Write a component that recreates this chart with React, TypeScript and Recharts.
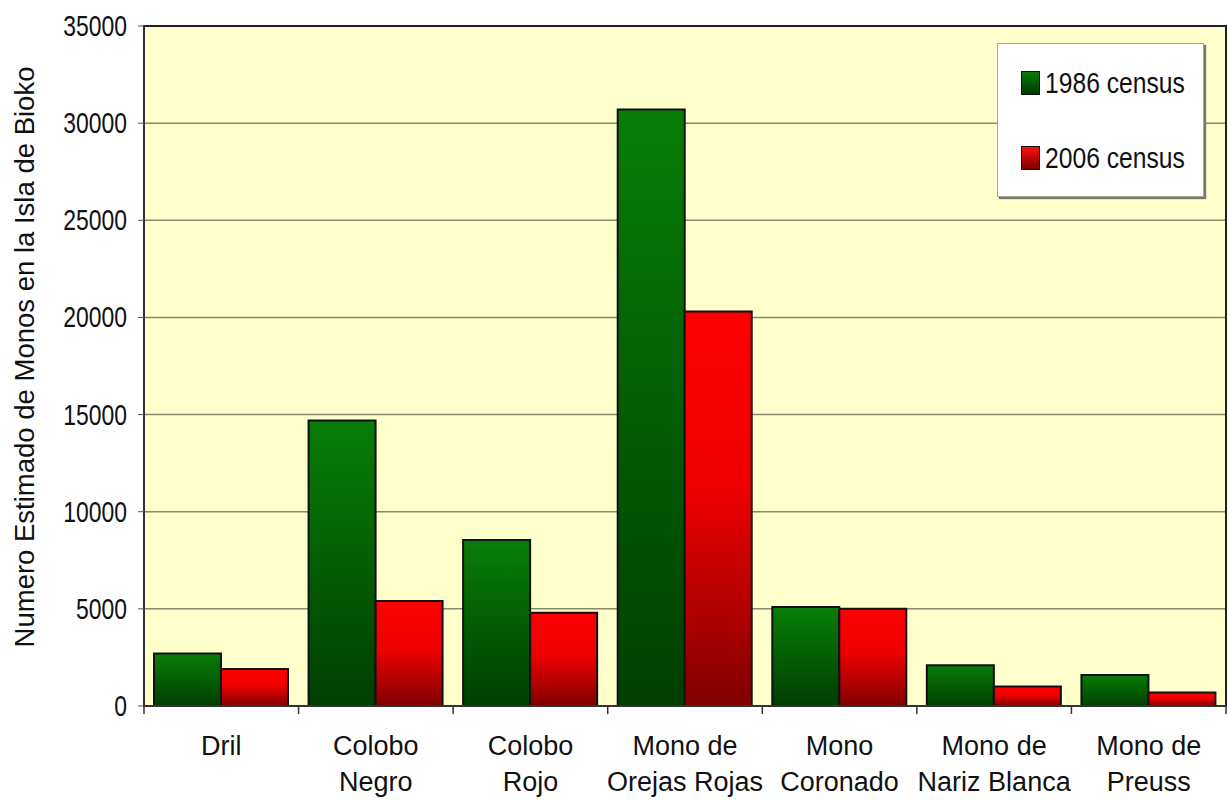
import React from "react";
import { Bar, BarChart, CartesianGrid, Legend, ReferenceArea, XAxis, YAxis } from "recharts";

const categories = [
  ["Dril"],
  ["Colobo", "Negro"],
  ["Colobo", "Rojo"],
  ["Mono de", "Orejas Rojas"],
  ["Mono", "Coronado"],
  ["Mono de", "Nariz Blanca"],
  ["Mono de", "Preuss"],
];
const census1986 = [2700, 14700, 8550, 30700, 5100, 2100, 1600];
const census2006 = [1900, 5400, 4800, 20300, 5000, 1000, 700];
const yTicks = [0, 5000, 10000, 15000, 20000, 25000, 30000, 35000];

const data = categories.map((lines, i) => ({
  name: lines.join(" "),
  lines,
  c1986: census1986[i],
  c2006: census2006[i],
}));

const font = "'Liberation Sans', Arial, sans-serif";
const bandWidth = (1226 - 144) / categories.length;

function CategoryTick(props: any) {
  const { x, y, index } = props;
  const lines: string[] = data[index]?.lines ?? [];
  const left = x - bandWidth / 2;
  return (
    <g>
      <line x1={left} y1={y - 8} x2={left} y2={y} stroke="#333" strokeWidth={1.5} />
      {index === data.length - 1 && (
        <line x1={left + bandWidth} y1={y - 8} x2={left + bandWidth} y2={y} stroke="#333" strokeWidth={1.5} />
      )}
      {lines.map((t, i) => (
        <text
          key={i}
          x={x}
          y={y + 41 + i * 36}
          textAnchor="middle"
          fontSize={27}
          fontFamily={font}
          fill="#111"
        >
          {t}
        </text>
      ))}
    </g>
  );
}

function ValueTick(props: any) {
  const { x, y, payload } = props;
  return (
    <text
      transform={`translate(${x},${y + 10}) scale(0.79,1)`}
      textAnchor="end"
      fontSize={29}
      fontFamily={font}
      fill="#111"
    >
      {payload.value}
    </text>
  );
}

function AxisTitle(props: any) {
  const vb = props.viewBox ?? {};
  const cy = (vb.y ?? 26) + (vb.height ?? 680) / 2 - 9;
  return (
    <text
      transform={`translate(34,${cy}) rotate(-90)`}
      textAnchor="middle"
      fontSize={27.5}
      fontFamily={font}
      fill="#111"
    >
      Numero Estimado de Monos en la Isla de Bioko
    </text>
  );
}

function LegendBox() {
  const items = [
    { label: "1986 census", bg: "linear-gradient(#0a7a0a, #003a00)" },
    { label: "2006 census", bg: "linear-gradient(#ff1010, #7a0000)" },
  ];
  return (
    <div
      style={{
        width: 207,
        height: 154,
        background: "#fff",
        border: "1px solid #a8a888",
        boxShadow: "2px 2px 1px #777",
        fontFamily: font,
        boxSizing: "border-box",
        paddingTop: 24,
      }}
    >
      {items.map((it, i) => (
        <div
          key={it.label}
          style={{ display: "flex", alignItems: "center", marginLeft: 23, height: 30, marginBottom: i === 0 ? 45 : 0 }}
        >
          <span
            style={{
              display: "inline-block",
              flexShrink: 0,
              width: 17,
              height: 22,
              background: it.bg,
              border: "1px solid #111",
              marginRight: 5,
            }}
          />
          <span
            style={{
              fontSize: 29,
              color: "#111",
              display: "inline-block",
              flexShrink: 0,
              transform: "scaleX(0.85)",
              transformOrigin: "left center",
              whiteSpace: "nowrap",
            }}
          >
            {it.label}
          </span>
        </div>
      ))}
    </div>
  );
}

export default function App() {
  return (
    <div style={{ position: "absolute", left: 0, top: 0, width: 1228, height: 800, background: "#fff" }}>
      <BarChart
        width={1228}
        height={800}
        data={data}
        margin={{ top: 26, right: 2, bottom: 0, left: 0 }}
        barCategoryGap={10}
        barGap={0}
      >
        <defs>
          <linearGradient id="gGreen" x1="0" y1="0" x2="0" y2="1">
            <stop offset="0%" stopColor="#087d08" />
            <stop offset="100%" stopColor="#003f00" />
          </linearGradient>
          <linearGradient id="gRed" x1="0" y1="0" x2="0" y2="1">
            <stop offset="0%" stopColor="#ff0000" />
            <stop offset="45%" stopColor="#ee0000" />
            <stop offset="100%" stopColor="#800000" />
          </linearGradient>
        </defs>
        <CartesianGrid vertical={false} fill="#ffffcc" stroke="#8a8a6a" strokeWidth={1.5} />
        <XAxis
          dataKey="name"
          interval={0}
          tick={<CategoryTick />}
          tickLine={false}
          axisLine={{ stroke: "#333", strokeWidth: 2 }}
          height={94}
        />
        <YAxis
          domain={[0, 35000]}
          ticks={yTicks}
          width={144}
          tickLine={{ stroke: "#555" }}
          tickSize={6}
          axisLine={{ stroke: "#333", strokeWidth: 2 }}
          tick={<ValueTick />}
          tickMargin={11}
          label={<AxisTitle />}
        />
        <ReferenceArea y1={0} y2={35000} fill="none" stroke="#222" strokeWidth={2} ifOverflow="visible" />
        <Legend
          layout="horizontal"
          align="center"
          verticalAlign="middle"
          content={() => <LegendBox />}
          wrapperStyle={{ top: 43, left: 997, width: 207 }}
        />
        <Bar dataKey="c1986" name="1986 census" fill="url(#gGreen)" stroke="#111" strokeWidth={2} isAnimationActive={false} />
        <Bar dataKey="c2006" name="2006 census" fill="url(#gRed)" stroke="#111" strokeWidth={2} isAnimationActive={false} />
      </BarChart>
    </div>
  );
}
